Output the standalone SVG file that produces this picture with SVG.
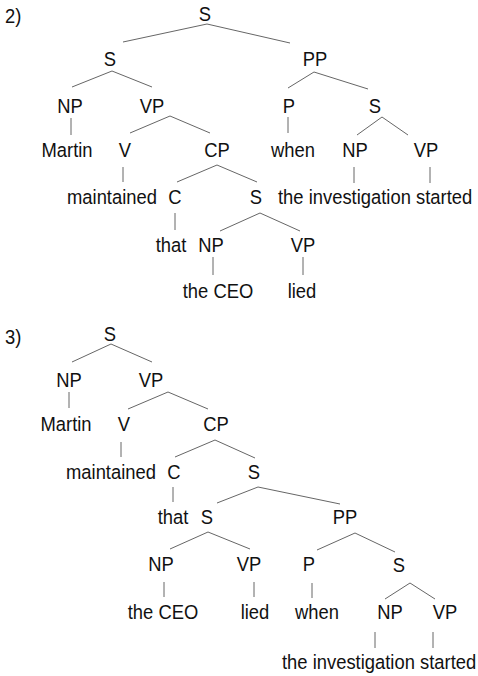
<svg xmlns="http://www.w3.org/2000/svg" width="478" height="676" viewBox="0 0 478 676">
<style>
text{font-family:"Liberation Sans",Arial,sans-serif;font-size:18.4px;fill:#111;text-anchor:middle}
.s{text-anchor:start}
line{stroke:#666;stroke-width:1}
</style>
<rect width="478" height="676" fill="#fff"/>
<g id="connectors">
<line x1="207" y1="24" x2="123" y2="42"/><line x1="207" y1="24" x2="290" y2="43"/>
<line x1="112" y1="71" x2="72" y2="87"/><line x1="112" y1="71" x2="152" y2="87"/>
<line x1="314" y1="72" x2="288" y2="88"/><line x1="314" y1="72" x2="368" y2="89"/>
<line x1="71" y1="118" x2="71" y2="135"/>
<line x1="170" y1="116" x2="130" y2="133"/><line x1="170" y1="116" x2="210" y2="133"/>
<line x1="288" y1="117" x2="288" y2="133"/>
<line x1="382" y1="117" x2="357" y2="135"/><line x1="382" y1="117" x2="408" y2="135"/>
<line x1="123" y1="167" x2="123" y2="182"/>
<line x1="217" y1="165" x2="177" y2="182"/><line x1="217" y1="165" x2="257" y2="182"/>
<line x1="354" y1="167" x2="354" y2="183"/><line x1="430" y1="167" x2="430" y2="183"/>
<line x1="175" y1="213" x2="175" y2="230"/>
<line x1="260" y1="213" x2="220" y2="231"/><line x1="260" y1="213" x2="300" y2="231"/>
<line x1="213" y1="257" x2="213" y2="275"/><line x1="303" y1="257" x2="303" y2="275"/>

<line x1="111" y1="344" x2="72" y2="362"/><line x1="111" y1="344" x2="152" y2="362"/>
<line x1="69" y1="392" x2="69" y2="408"/>
<line x1="168" y1="392" x2="128" y2="409"/><line x1="168" y1="392" x2="208" y2="409"/>
<line x1="121" y1="442" x2="121" y2="457"/>
<line x1="215" y1="440" x2="175" y2="457"/><line x1="215" y1="440" x2="255" y2="458"/>
<line x1="173" y1="487" x2="173" y2="502"/>
<line x1="258" y1="487" x2="217" y2="503"/><line x1="258" y1="487" x2="340" y2="504"/>
<line x1="208" y1="532" x2="170" y2="549"/><line x1="208" y1="532" x2="250" y2="549"/>
<line x1="355" y1="533" x2="317" y2="550"/><line x1="355" y1="533" x2="395" y2="552"/>
<line x1="164" y1="582" x2="164" y2="597"/><line x1="254" y1="582" x2="254" y2="597"/><line x1="312" y1="583" x2="312" y2="598"/>
<line x1="410" y1="583" x2="385" y2="599"/><line x1="410" y1="583" x2="435" y2="599"/>
<line x1="375" y1="632" x2="375" y2="648"/><line x1="433" y1="632" x2="433" y2="648"/>
</g>
<g id="tree2">
<text class="s" transform="translate(5,23) scale(1,1.1)">2)</text>
<g id="t2-S"><text transform="translate(205,21) scale(1,1.1)">S</text></g>
<g id="t2-S1"><text transform="translate(110,66) scale(1,1.1)">S</text></g>
<g id="t2-PP"><text transform="translate(315,66) scale(1,1.1)">PP</text></g>
<g id="t2-NP"><text transform="translate(70,113) scale(1,1.1)">NP</text></g>
<g id="t2-VP"><text transform="translate(152,113) scale(1,1.1)">VP</text></g>
<g id="t2-P"><text transform="translate(289,113) scale(1,1.1)">P</text></g>
<g id="t2-S2"><text transform="translate(375,113) scale(1,1.1)">S</text></g>
<g id="t2-Martin"><text transform="translate(67,157) scale(1,1.1)">Martin</text></g>
<g id="t2-V"><text transform="translate(125,157) scale(1,1.1)">V</text></g>
<g id="t2-CP"><text transform="translate(217,157) scale(1,1.1)">CP</text></g>
<g id="t2-when"><text transform="translate(293,157) scale(1,1.1)">when</text></g>
<g id="t2-NP2"><text transform="translate(355,157) scale(1,1.1)">NP</text></g>
<g id="t2-VP2"><text transform="translate(426,157) scale(1,1.1)">VP</text></g>
<g id="t2-maintained"><text transform="translate(112,204) scale(1,1.1)">maintained</text></g>
<g id="t2-C"><text transform="translate(175,204) scale(1,1.1)">C</text></g>
<g id="t2-S3"><text transform="translate(256,204) scale(1,1.1)">S</text></g>
<g id="t2-inv"><text class="s" transform="translate(278,204) scale(1,1.1)">the investigation started</text></g>
<g id="t2-that"><text transform="translate(171,252) scale(1,1.1)">that</text></g>
<g id="t2-NP3"><text transform="translate(211,252) scale(1,1.1)">NP</text></g>
<g id="t2-VP3"><text transform="translate(303,252) scale(1,1.1)">VP</text></g>
<g id="t2-CEO"><text transform="translate(218,298) scale(1,1.1)">the CEO</text></g>
<g id="t2-lied"><text transform="translate(302,298) scale(1,1.1)">lied</text></g>
</g>
<g id="tree3">
<text class="s" transform="translate(5,344) scale(1,1.1)">3)</text>
<g id="t3-S"><text transform="translate(110,341) scale(1,1.1)">S</text></g>
<g id="t3-NP"><text transform="translate(69,387) scale(1,1.1)">NP</text></g>
<g id="t3-VP"><text transform="translate(151,387) scale(1,1.1)">VP</text></g>
<g id="t3-Martin"><text transform="translate(66,431) scale(1,1.1)">Martin</text></g>
<g id="t3-V"><text transform="translate(124,431) scale(1,1.1)">V</text></g>
<g id="t3-CP"><text transform="translate(216,431) scale(1,1.1)">CP</text></g>
<g id="t3-maintained"><text transform="translate(111,479) scale(1,1.1)">maintained</text></g>
<g id="t3-C"><text transform="translate(174,479) scale(1,1.1)">C</text></g>
<g id="t3-S1"><text transform="translate(254,479) scale(1,1.1)">S</text></g>
<g id="t3-that"><text transform="translate(173,524) scale(1,1.1)">that</text></g>
<g id="t3-S2"><text transform="translate(207,524) scale(1,1.1)">S</text></g>
<g id="t3-PP"><text transform="translate(345,524) scale(1,1.1)">PP</text></g>
<g id="t3-NP2"><text transform="translate(161,571) scale(1,1.1)">NP</text></g>
<g id="t3-VP2"><text transform="translate(249,571) scale(1,1.1)">VP</text></g>
<g id="t3-P"><text transform="translate(309,571) scale(1,1.1)">P</text></g>
<g id="t3-S3"><text transform="translate(399,572) scale(1,1.1)">S</text></g>
<g id="t3-CEO"><text transform="translate(163,619) scale(1,1.1)">the CEO</text></g>
<g id="t3-lied"><text transform="translate(255,619) scale(1,1.1)">lied</text></g>
<g id="t3-when"><text transform="translate(317,619) scale(1,1.1)">when</text></g>
<g id="t3-NP3"><text transform="translate(390,619) scale(1,1.1)">NP</text></g>
<g id="t3-VP3"><text transform="translate(445,619) scale(1,1.1)">VP</text></g>
<g id="t3-inv"><text class="s" transform="translate(282,669) scale(1,1.1)">the investigation started</text></g>
</g>
</svg>
